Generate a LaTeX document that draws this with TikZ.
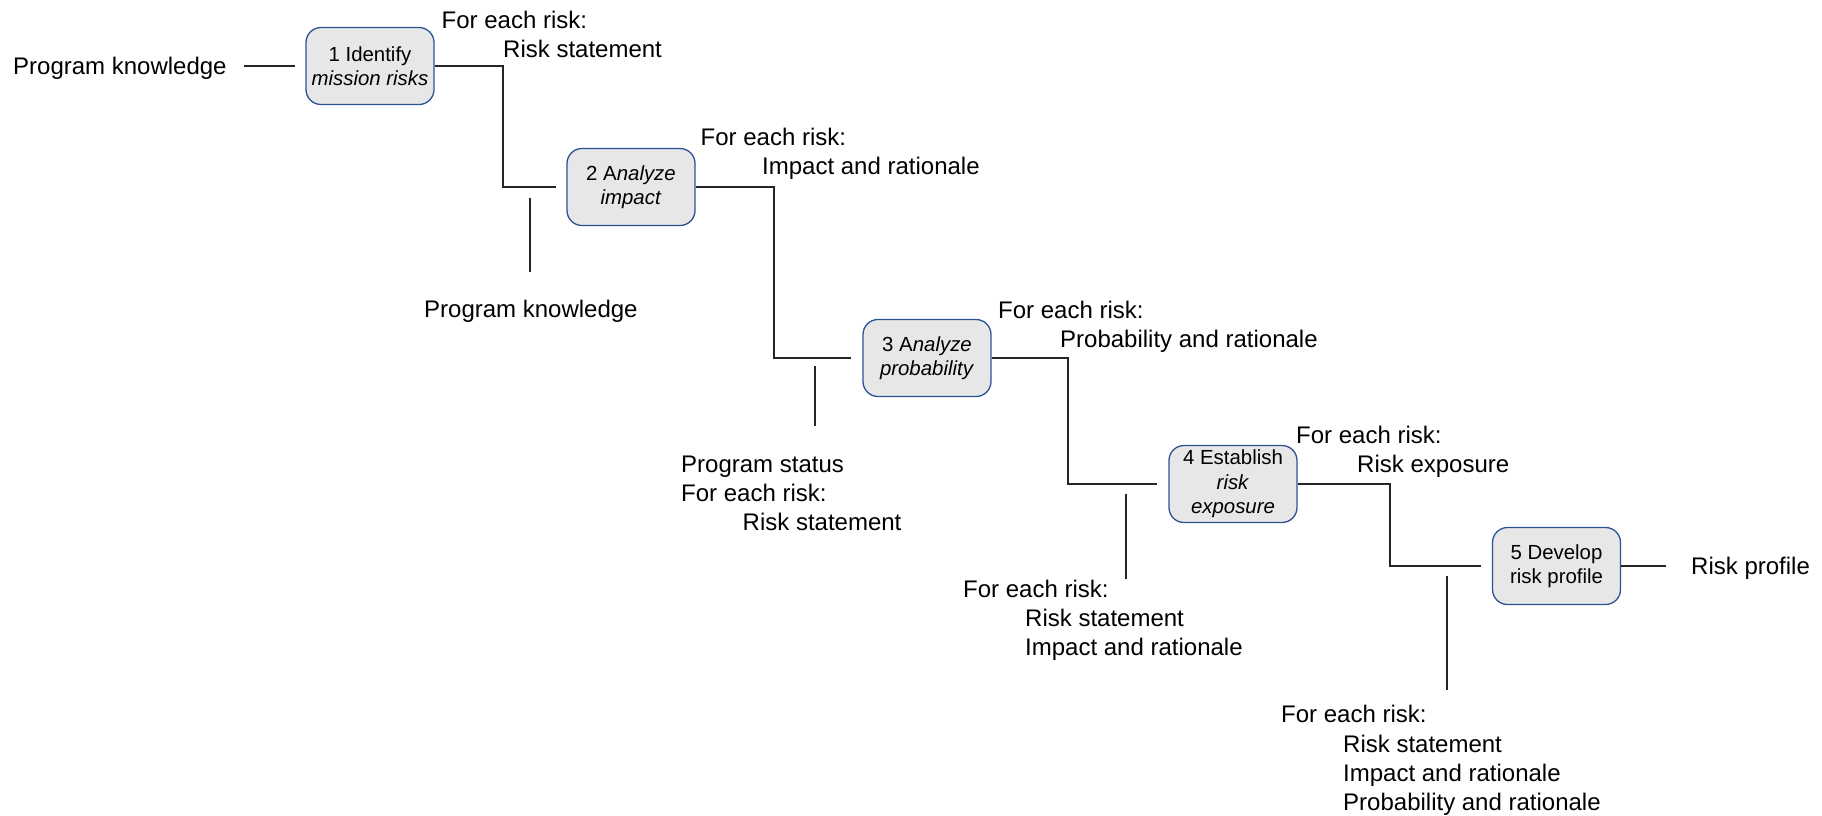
\documentclass[tikz,border=0pt]{standalone}
\usepackage{fontspec}
\setmainfont{Liberation Sans}
\definecolor{boxblue}{RGB}{44,82,150}
\definecolor{boxfill}{RGB}{231,231,231}
\begin{document}
\begin{tikzpicture}[x=1pt,y=-1pt,
  stepbox/.style={draw=boxblue, fill=boxfill, line width=1.3pt, rounded corners=15pt,
    minimum width=128pt, minimum height=77pt, inner sep=0pt, align=center,
    font=\fontsize{20.4}{24.5}\selectfont},
  lbl/.style={anchor=west, inner sep=0pt, text height=17.2pt, text depth=0pt,
    font=\fontsize{24}{29}\selectfont},
  wire/.style={line width=1.15pt, black!85}]
\useasboundingbox (0,0) rectangle (1822,815);

% process steps
\node[stepbox] (b1) at (370,66) {1 Identify\\\textit{mission risks}};
\node[stepbox] (b2) at (631,187) {2 A\textit{nalyze}\\\textit{impact}};
\node[stepbox] (b3) at (927,358) {3 A\textit{nalyze}\\\textit{probability}};
\node[stepbox] (b4) at (1233,484) {4 Establish\\\textit{risk}\\\textit{exposure}};
\node[stepbox] (b5) at (1556.5,566) {5 Develop\\risk profile};

% elbows of the step-to-step flow
\coordinate (j12) at (503,187);
\coordinate (j23) at (774,358);
\coordinate (j34) at (1068,484);
\coordinate (j45) at (1390,566);
\draw[wire] (b1.east) -| (j12) -- ([xshift=-10pt]b2.west);
\draw[wire] (b2.east) -| (j23) -- ([xshift=-11pt]b3.west);
\draw[wire] (b3.east) -| (j34) -- ([xshift=-11pt]b4.west);
\draw[wire] (b4.east) -| (j45) -- ([xshift=-11pt]b5.west);

% outputs of each step
\node[lbl] (o1a) at (441.5,20) {For each risk:};
\node[lbl] (o1b) at (503,49) {Risk statement};
\node[lbl] (o2a) at (700.5,137) {For each risk:};
\node[lbl] (o2b) at (762,166) {Impact and rationale};
\node[lbl] (o3a) at (998,310) {For each risk:};
\node[lbl] (o3b) at (1060,339) {Probability and rationale};
\node[lbl] (o4a) at (1296,435) {For each risk:};
\node[lbl] (o4b) at (1357,464) {Risk exposure};

% external input and final output
\node[lbl] (pk1) at (13,66) {Program knowledge};
\draw[wire] ([xshift=17pt]pk1.east) -- ([xshift=-10pt]b1.west);
\node[lbl] (rp) at (1691,566) {Risk profile};
\draw[wire] (b5.east) -- ([xshift=-25pt]rp.west);

% side inputs
\node[lbl] (i2a) at (424,309) {Program knowledge};
\coordinate (f2a) at (530,198);
\coordinate (f2b) at (530,272);
\draw[wire] (f2a) -- (f2b);

\node[lbl] (i3a) at (681,463.5) {Program status};
\node[lbl] (i3b) at (681,492.5) {For each risk:};
\node[lbl] (i3c) at (742.5,521.5) {Risk statement};
\coordinate (f3a) at (815,366);
\coordinate (f3b) at (815,426);
\draw[wire] (f3a) -- (f3b);

\node[lbl] (i4a) at (963,589) {For each risk:};
\node[lbl] (i4b) at (1025,618) {Risk statement};
\node[lbl] (i4c) at (1025,647) {Impact and rationale};
\coordinate (f4a) at (1126,494);
\coordinate (f4b) at (1126,579);
\draw[wire] (f4a) -- (f4b);

\node[lbl] (i5a) at (1281,713.5) {For each risk:};
\node[lbl] (i5b) at (1343,744) {Risk statement};
\node[lbl] (i5c) at (1343,773) {Impact and rationale};
\node[lbl] (i5d) at (1343,802) {Probability and rationale};
\coordinate (f5a) at (1447,576);
\coordinate (f5b) at (1447,690);
\draw[wire] (f5a) -- (f5b);
\end{tikzpicture}
\end{document}
